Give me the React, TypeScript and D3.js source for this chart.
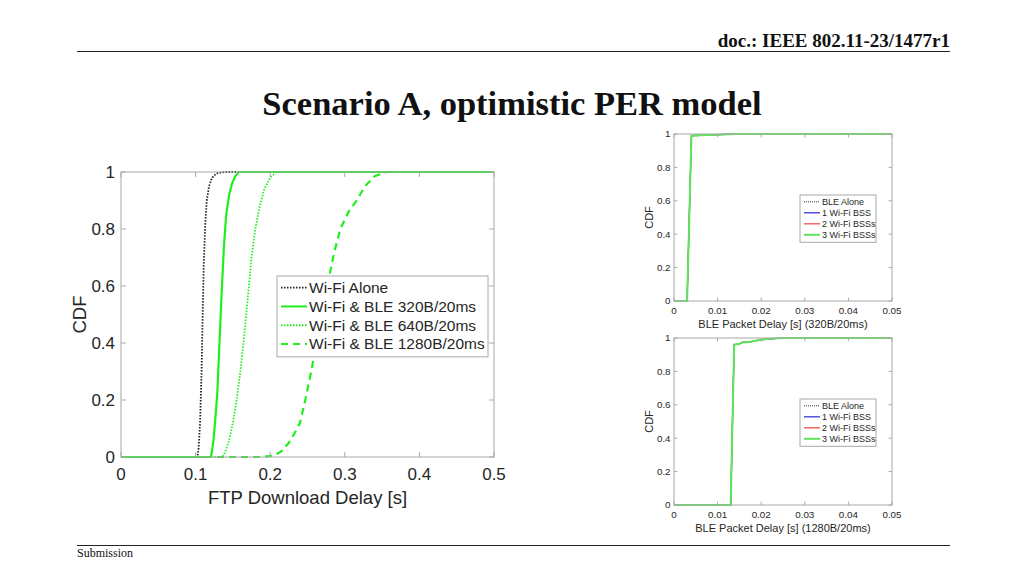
import React from "react";
import { scaleLinear, line } from "d3";

// ---- main chart: FTP download delay CDF ----
const ftpTicks = [0, 0.1, 0.2, 0.3, 0.4, 0.5];
const cdfTicks = [0, 0.2, 0.4, 0.6, 0.8, 1];

const wifiAloneX = [0, 0.1025, 0.104, 0.106, 0.108, 0.1095, 0.111, 0.113, 0.115, 0.118, 0.122, 0.128, 0.14, 0.5];
const wifiAloneY = [0, 0, 0.03, 0.12, 0.3, 0.5, 0.68, 0.82, 0.9, 0.95, 0.98, 0.995, 1, 1];

const ble320X = [0, 0.1205, 0.122, 0.124, 0.126, 0.129, 0.132, 0.135, 0.138, 0.141, 0.145, 0.149, 0.153, 0.158, 0.5];
const ble320Y = [0, 0, 0.02, 0.06, 0.12, 0.22, 0.4, 0.58, 0.74, 0.85, 0.92, 0.96, 0.985, 1, 1];

const ble640X = [0, 0.136, 0.14, 0.145, 0.15, 0.155, 0.16, 0.165, 0.17, 0.175, 0.18, 0.186, 0.192, 0.2, 0.208, 0.5];
const ble640Y = [0, 0, 0.02, 0.06, 0.12, 0.2, 0.3, 0.42, 0.56, 0.7, 0.8, 0.88, 0.94, 0.98, 1, 1];

const ble1280X = [0, 0.19, 0.205, 0.215, 0.225, 0.232, 0.24, 0.247, 0.255, 0.262, 0.27, 0.278, 0.286, 0.294, 0.305, 0.316, 0.327, 0.34, 0.356, 0.5];
const ble1280Y = [0, 0, 0.005, 0.02, 0.05, 0.08, 0.12, 0.2, 0.3, 0.4, 0.5, 0.62, 0.72, 0.8, 0.86, 0.9, 0.95, 0.985, 1, 1];

const ftpLegend = ["Wi-Fi Alone", "Wi-Fi & BLE 320B/20ms", "Wi-Fi & BLE 640B/20ms", "Wi-Fi & BLE 1280B/20ms"];

// ---- small charts: BLE packet delay CDF ----
const bleTicks = [0, 0.01, 0.02, 0.03, 0.04, 0.05];
const bleLegend = ["BLE Alone", "1 Wi-Fi BSS", "2 Wi-Fi BSSs", "3 Wi-Fi BSSs"];

const pkt320X = [0, 0.003, 0.004, 0.006, 0.01, 0.014, 0.05];
const pkt320Y = [0, 0, 0.99, 0.992, 0.996, 1, 1];

const pkt1280X = [0, 0.013, 0.0138, 0.015, 0.0155, 0.016, 0.0175, 0.018, 0.019, 0.02, 0.022, 0.025, 0.05];
const pkt1280Y = [0, 0, 0.96, 0.965, 0.972, 0.975, 0.976, 0.98, 0.985, 0.99, 0.995, 1, 1];

type Series = { label: string; xs: number[]; ys: number[]; color: string; dash?: string; width: number };

const FONT = "'Liberation Sans', Arial, sans-serif";
const SERIF = "'Liberation Serif', 'Times New Roman', serif";

function CdfPlot(props: {
  x0: number; y0: number; x1: number; y1: number;
  xMax: number; xTicks: number[]; series: Series[];
  tickSize: number; labelSize: number; xLabel: string; yLabelOffset: number;
  legend: { x: number; y: number; w: number; rowH: number; lineW: number; fontSize: number };
}) {
  const { x0, y0, x1, y1, xMax, xTicks, series, tickSize, labelSize, xLabel, yLabelOffset, legend } = props;
  const xs = scaleLinear().domain([0, xMax]).range([x0, x1]);
  const ys = scaleLinear().domain([0, 1]).range([y1, y0]);
  const axisColor = "#a8a8a8";
  const tl = (y1 - y0) * 0.014 + 1;
  const pathOf = (s: Series) =>
    line<number>().x((d) => xs(d)).y((_, i) => ys(s.ys[i]))(s.xs) || "";

  return (
    <g>
      <rect x={x0} y={y0} width={x1 - x0} height={y1 - y0} fill="#fff" />
      {series.map((s) => (
        <path key={s.label} d={pathOf(s)} fill="none" stroke={s.color} strokeWidth={s.width}
          strokeDasharray={s.dash} />
      ))}
      <rect x={x0} y={y0} width={x1 - x0} height={y1 - y0} fill="none" stroke={axisColor} strokeWidth={1} />
      {xTicks.map((t) => (
        <g key={"x" + t}>
          <line x1={xs(t)} x2={xs(t)} y1={y1} y2={y1 - tl} stroke={axisColor} />
          <line x1={xs(t)} x2={xs(t)} y1={y0} y2={y0 + tl} stroke={axisColor} />
          <text x={xs(t)} y={y1 + tickSize * 1.33} textAnchor="middle" fontSize={tickSize}
            fontFamily={FONT} fill="#262626">{String(t)}</text>
        </g>
      ))}
      {cdfTicks.map((t) => (
        <g key={"y" + t}>
          <line x1={x0} x2={x0 + tl} y1={ys(t)} y2={ys(t)} stroke={axisColor} />
          <line x1={x1} x2={x1 - tl} y1={ys(t)} y2={ys(t)} stroke={axisColor} />
          <text x={x0 - tickSize * 0.35} y={ys(t)} dy="0.35em" textAnchor="end" fontSize={tickSize}
            fontFamily={FONT} fill="#262626">{String(t)}</text>
        </g>
      ))}
      <text x={(x0 + x1) / 2} y={y1 + tickSize * 1.33 + labelSize * 1.3} textAnchor="middle"
        fontSize={labelSize} fontFamily={FONT} fill="#262626">{xLabel}</text>
      <text transform={`translate(${x0 - yLabelOffset},${(y0 + y1) / 2}) rotate(-90)`}
        textAnchor="middle" fontSize={labelSize} fontFamily={FONT} fill="#262626">CDF</text>
      <g>
        <rect x={legend.x} y={legend.y} width={legend.w} height={legend.rowH * series.length + legend.rowH * 0.3}
          fill="#fff" stroke={axisColor} />
        {series.map((s, i) => {
          const cy = legend.y + legend.rowH * (i + 0.62);
          return (
            <g key={"lg" + s.label}>
              <line x1={legend.x + 4} x2={legend.x + 4 + legend.lineW} y1={cy} y2={cy}
                stroke={s.color} strokeWidth={Math.min(s.width, 2)} strokeDasharray={s.dash} />
              <text x={legend.x + 6 + legend.lineW} y={cy} dy="0.35em" fontSize={legend.fontSize}
                fontFamily={FONT} fill="#262626">{s.label}</text>
            </g>
          );
        })}
      </g>
    </g>
  );
}

export default function App() {
  const green = "#1fef1f";
  const mainSeries: Series[] = [
    { label: ftpLegend[0], xs: wifiAloneX, ys: wifiAloneY, color: "#222", dash: "1.5,1.5", width: 1.8 },
    { label: ftpLegend[1], xs: ble320X, ys: ble320Y, color: green, width: 2.2 },
    { label: ftpLegend[2], xs: ble640X, ys: ble640Y, color: green, dash: "1.5,1.5", width: 1.8 },
    { label: ftpLegend[3], xs: ble1280X, ys: ble1280Y, color: green, dash: "7,5", width: 2.2 },
  ];
  const smallSeries = (xs: number[], ys: number[]): Series[] => [
    { label: bleLegend[0], xs, ys, color: "#333", dash: "1,1", width: 1 },
    { label: bleLegend[1], xs, ys, color: "#2a2ad6", width: 1.2 },
    { label: bleLegend[2], xs, ys, color: "#f04040", width: 1.2 },
    { label: bleLegend[3], xs, ys, color: "#5ce65c", width: 2 },
  ];

  return (
    <svg width={1024} height={576} style={{ position: "absolute", left: 0, top: 0, background: "#fff" }}>
      <rect width={1024} height={576} fill="#fff" />
      <text x={950} y={47} textAnchor="end" fontSize={19} fontWeight="bold" fontFamily={SERIF}
        fill="#111">doc.: IEEE 802.11-23/1477r1</text>
      <line x1={77} x2={950} y1={51.5} y2={51.5} stroke="#222" strokeWidth={1.2} />
      <text x={512} y={115} textAnchor="middle" fontSize={34.5} fontWeight="bold" fontFamily={SERIF}
        fill="#111">Scenario A, optimistic PER model</text>

      <CdfPlot x0={121} y0={172} x1={494} y1={457} xMax={0.5} xTicks={ftpTicks} series={mainSeries}
        tickSize={17} labelSize={18.5} yLabelOffset={35} xLabel="FTP Download Delay [s]"
        legend={{ x: 277, y: 276, w: 211, rowH: 18.8, lineW: 26, fontSize: 15.5 }} />

      <CdfPlot x0={674} y0={134} x1={892} y1={301} xMax={0.05} xTicks={bleTicks}
        series={smallSeries(pkt320X, pkt320Y)} tickSize={9.8} labelSize={11} yLabelOffset={21}
        xLabel="BLE Packet Delay [s] (320B/20ms)"
        legend={{ x: 800, y: 195, w: 76, rowH: 11, lineW: 16, fontSize: 9 }} />

      <CdfPlot x0={674} y0={338} x1={892} y1={505} xMax={0.05} xTicks={bleTicks}
        series={smallSeries(pkt1280X, pkt1280Y)} tickSize={9.8} labelSize={11} yLabelOffset={21}
        xLabel="BLE Packet Delay [s] (1280B/20ms)"
        legend={{ x: 800, y: 399, w: 76, rowH: 11, lineW: 16, fontSize: 9 }} />

      <line x1={77} x2={950} y1={545.5} y2={545.5} stroke="#222" strokeWidth={1.2} />
      <text x={77} y={557} fontSize={12} fontFamily={SERIF} fill="#111">Submission</text>
    </svg>
  );
}
